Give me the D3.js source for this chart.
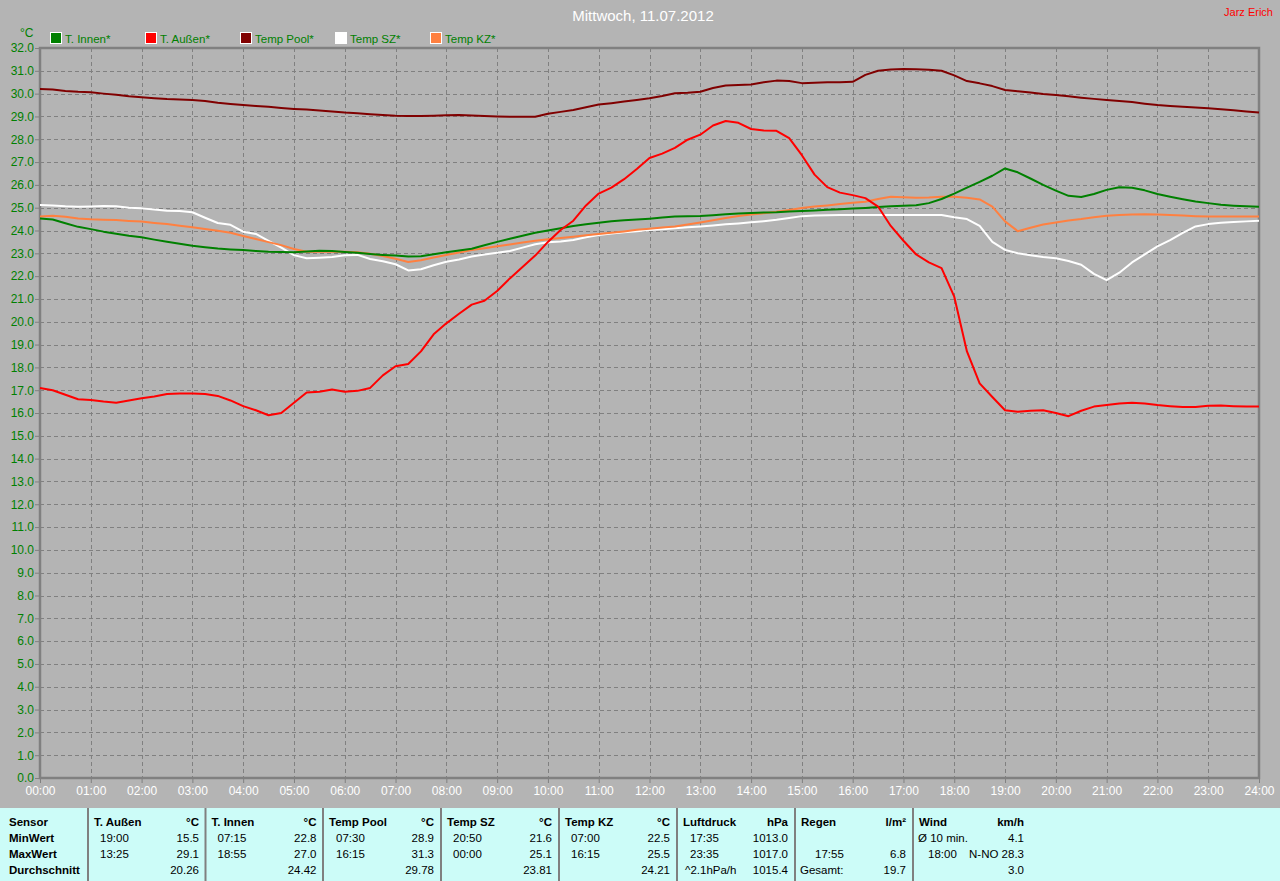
<!DOCTYPE html>
<html><head><meta charset="utf-8">
<script src="https://cdn.jsdelivr.net/npm/d3@7/dist/d3.min.js"></script>
<style>
html,body{margin:0;padding:0;background:#b4b4b4;}
svg{display:block;font-family:"Liberation Sans",Arial,sans-serif;}
</style></head><body>
<svg id="c" width="1280" height="881"></svg>
<script>
// ---- data ----
const times = d3.range(0, 24.001, 0.25); // hours, 15-min steps
const xTickLabels = ["00:00","01:00","02:00","03:00","04:00","05:00","06:00","07:00","08:00","09:00","10:00","11:00","12:00","13:00","14:00","15:00","16:00","17:00","18:00","19:00","20:00","21:00","22:00","23:00","24:00"];
const yTicks = d3.range(0, 32.001, 1);
const seriesNames = ["T. Innen*","T. Außen*","Temp Pool*","Temp SZ*","Temp KZ*"];
const seriesColors = ["#008000","#ff0000","#800000","#ffffff","#ff8040"];

const tInnen = [24.53,24.48,24.32,24.16,24.06,23.95,23.86,23.77,23.7,23.6,23.51,23.42,23.33,23.27,23.21,23.17,23.14,23.1,23.07,23.06,23.05,23.08,23.11,23.1,23.06,23.02,22.97,22.93,22.9,22.86,22.87,22.96,23.05,23.12,23.2,23.35,23.5,23.64,23.77,23.9,24.0,24.1,24.2,24.27,24.34,24.41,24.45,24.48,24.52,24.57,24.61,24.63,24.64,24.67,24.71,24.75,24.77,24.79,24.8,24.83,24.85,24.88,24.91,24.93,24.96,24.99,25.03,25.06,25.08,25.11,25.2,25.38,25.62,25.88,26.13,26.4,26.72,26.55,26.28,26.0,25.75,25.52,25.47,25.6,25.78,25.9,25.87,25.76,25.6,25.48,25.37,25.27,25.2,25.13,25.09,25.06,25.04];
const tAussen = [17.1,17.0,16.8,16.6,16.57,16.5,16.45,16.55,16.65,16.72,16.83,16.85,16.85,16.83,16.75,16.55,16.3,16.12,15.9,16.0,16.45,16.9,16.93,17.03,16.93,16.97,17.1,17.65,18.05,18.15,18.7,19.45,19.93,20.35,20.75,20.92,21.35,21.9,22.4,22.9,23.5,24.02,24.43,25.1,25.62,25.88,26.25,26.7,27.18,27.37,27.62,27.98,28.2,28.6,28.8,28.72,28.45,28.38,28.37,28.05,27.3,26.45,25.9,25.66,25.55,25.42,25.05,24.2,23.55,22.95,22.6,22.35,21.1,18.7,17.3,16.7,16.12,16.06,16.1,16.12,16.0,15.86,16.1,16.28,16.35,16.42,16.45,16.42,16.35,16.3,16.26,16.26,16.32,16.33,16.3,16.28,16.28];
const tPool = [30.2,30.18,30.12,30.08,30.06,30.0,29.95,29.88,29.84,29.8,29.76,29.74,29.72,29.68,29.6,29.55,29.5,29.46,29.42,29.37,29.33,29.3,29.26,29.22,29.17,29.14,29.1,29.06,29.03,29.02,29.02,29.03,29.05,29.06,29.04,29.02,29.0,28.99,28.99,28.99,29.12,29.2,29.28,29.4,29.52,29.58,29.65,29.72,29.8,29.9,30.02,30.04,30.08,30.25,30.36,30.38,30.4,30.5,30.57,30.55,30.46,30.48,30.5,30.5,30.52,30.82,31.0,31.06,31.08,31.07,31.05,31.0,30.8,30.55,30.45,30.33,30.16,30.1,30.05,29.98,29.94,29.88,29.82,29.77,29.72,29.68,29.63,29.56,29.5,29.46,29.42,29.39,29.36,29.32,29.27,29.22,29.17];
const tSZ = [25.12,25.1,25.06,25.04,25.05,25.07,25.06,25.0,24.97,24.92,24.87,24.85,24.8,24.56,24.33,24.25,23.95,23.85,23.55,23.25,22.92,22.78,22.81,22.84,22.92,22.93,22.75,22.65,22.52,22.25,22.3,22.48,22.63,22.73,22.86,22.95,23.02,23.1,23.25,23.4,23.48,23.52,23.58,23.7,23.8,23.87,23.92,23.97,24.02,24.06,24.1,24.14,24.18,24.22,24.27,24.31,24.36,24.41,24.47,24.55,24.63,24.66,24.67,24.68,24.68,24.68,24.68,24.68,24.68,24.68,24.68,24.68,24.58,24.5,24.2,23.5,23.15,23.0,22.92,22.84,22.78,22.66,22.5,22.1,21.82,22.15,22.6,22.95,23.3,23.58,23.9,24.18,24.28,24.34,24.37,24.4,24.43];
const tKZ = [24.61,24.65,24.6,24.53,24.49,24.47,24.46,24.42,24.39,24.33,24.28,24.21,24.14,24.07,23.99,23.9,23.76,23.63,23.49,23.36,23.19,23.07,23.07,23.07,23.07,23.05,22.98,22.88,22.76,22.62,22.7,22.82,22.93,23.04,23.14,23.22,23.31,23.39,23.47,23.55,23.62,23.67,23.73,23.79,23.85,23.9,23.96,24.03,24.08,24.13,24.18,24.26,24.35,24.45,24.55,24.64,24.7,24.76,24.82,24.9,24.99,25.05,25.1,25.16,25.22,25.26,25.38,25.48,25.46,25.44,25.45,25.48,25.48,25.44,25.36,25.05,24.4,23.97,24.12,24.26,24.35,24.44,24.5,24.58,24.65,24.68,24.7,24.71,24.7,24.68,24.66,24.63,24.61,24.61,24.61,24.61,24.61];

// stats table
const tableHeaders = [["Sensor",""],["T. Außen","°C"],["T. Innen","°C"],["Temp Pool","°C"],["Temp SZ","°C"],["Temp KZ","°C"],["Luftdruck","hPa"],["Regen","l/m²"],["Wind","km/h"]];
const rowLabels = ["MinWert","MaxWert","Durchschnitt"];
const tableCells = [
  [["19:00","15.5"],["13:25","29.1"],["","20.26"]],
  [["07:15","22.8"],["18:55","27.0"],["","24.42"]],
  [["07:30","28.9"],["16:15","31.3"],["","29.78"]],
  [["20:50","21.6"],["00:00","25.1"],["","23.81"]],
  [["07:00","22.5"],["16:15","25.5"],["","24.21"]],
  [["17:35","1013.0"],["23:35","1017.0"],["^2.1hPa/h","1015.4"]],
  [["",""],["17:55","6.8"],["Gesamt:","19.7"]],
  [["Ø 10 min.","4.1"],["18:00","N-NO 28.3"],["","3.0"]]
];

(function(){
const svg = d3.select("#c");
const W = 1280, H = 881;
const pL = 40, pR = 1259, pT = 48, pB = 778;
const x = d3.scaleLinear().domain([0,24]).range([pL,pR]);
const y = d3.scaleLinear().domain([0,32]).range([pB,pT]);

svg.append("rect").attr("width",W).attr("height",H).attr("fill","#b4b4b4");

// grid
const gridG = svg.append("g");
gridG.selectAll("line.h").data(yTicks.slice(1)).join("line")
  .attr("x1",pL).attr("x2",pR).attr("y1",d=>Math.round(y(d))+0.5).attr("y2",d=>Math.round(y(d))+0.5)
  .attr("stroke","#808080").attr("stroke-width",1).attr("stroke-dasharray","4,3");
gridG.selectAll("line.v").data(d3.range(1,24)).join("line")
  .attr("y1",pT).attr("y2",pB).attr("x1",d=>Math.round(x(d))+0.5).attr("x2",d=>Math.round(x(d))+0.5)
  .attr("stroke","#808080").attr("stroke-width",1).attr("stroke-dasharray","4,3");

// axes
const yAxis = d3.axisLeft(y).tickValues(yTicks).tickFormat(d3.format(".1f")).tickSize(5).tickPadding(1);
const ya = svg.append("g").attr("transform",`translate(${pL},0)`).call(yAxis);
ya.select(".domain").remove();
ya.selectAll("line").attr("stroke","#808080");
ya.selectAll("text").attr("fill","#008000").attr("font-size","12px");

const xAxis = d3.axisBottom(x).tickValues(d3.range(0,25)).tickFormat((d,i)=>xTickLabels[i]).tickSize(5).tickPadding(3);
const xa = svg.append("g").attr("transform",`translate(0,${pB})`).call(xAxis);
xa.select(".domain").remove();
xa.selectAll("line").attr("stroke","#808080");
xa.selectAll("text").attr("fill","#ffffff").attr("font-size","12px");

// frame
svg.append("rect").attr("x",pL).attr("y",pT).attr("width",pR-pL).attr("height",pB-pT)
  .attr("fill","none").attr("stroke","#808080").attr("stroke-width",2.5);

// lines
const allSeries = [tInnen,tAussen,tPool,tSZ,tKZ];
const line = d3.line().x((d,i)=>x(times[i])).y(d=>y(d));
[2,3,4,0,1].forEach(k=>{
  svg.append("path").datum(allSeries[k]).attr("d",line)
    .attr("fill","none").attr("stroke",seriesColors[k]).attr("stroke-width",2)
    .attr("stroke-linejoin","round");
});

// title etc
svg.append("text").attr("x",643).attr("y",21).attr("text-anchor","middle")
  .attr("fill","#ffffff").attr("font-size","15px").text("Mittwoch, 11.07.2012");
svg.append("text").attr("x",1273).attr("y",16).attr("text-anchor","end")
  .attr("fill","#ff0000").attr("font-size","11px").text("Jarz Erich");
svg.append("text").attr("x",20).attr("y",37).attr("fill","#008000").attr("font-size","12px").text("°C");

// legend
const lg = svg.append("g");
seriesNames.forEach((n,i)=>{
  const lx = 50 + i*95;
  lg.append("rect").attr("x",lx+0.5).attr("y",32.5).attr("width",11).attr("height",11)
    .attr("fill",seriesColors[i]).attr("stroke","#ffffff").attr("stroke-width",1);
  lg.append("text").attr("x",lx+15).attr("y",43).attr("fill","#008000").attr("font-size","11.5px").text(n);
});

// table
const tTop = 808;
svg.append("rect").attr("x",0).attr("y",tTop).attr("width",W).attr("height",H-tTop).attr("fill","#ccfcf8");
const seps = [88,205.5,323,441,559,677,795,913];
seps.forEach(s=>{
  svg.append("line").attr("x1",s).attr("x2",s).attr("y1",tTop).attr("y2",H)
    .attr("stroke","#808080").attr("stroke-width",2);
});
const rowY = [826,842,858,874];
const tg = svg.append("g").attr("font-size","11.5px").attr("fill","#000");
tg.append("text").attr("x",9).attr("y",rowY[0]).attr("font-weight","bold").text(tableHeaders[0][0]);
rowLabels.forEach((r,i)=>tg.append("text").attr("x",9).attr("y",rowY[i+1]).attr("font-weight","bold").text(r));
const timeOffsets = [12,12,13,12,12,13,20,15];
tableHeaders.slice(1).forEach((h,c)=>{
  const s = seps[c];
  const rEdge = s + 111;
  tg.append("text").attr("x",s+6).attr("y",rowY[0]).attr("font-weight","bold").text(h[0]);
  tg.append("text").attr("x",rEdge).attr("y",rowY[0]).attr("font-weight","bold").attr("text-anchor","end").text(h[1]);
  tableCells[c].forEach((cell,r)=>{
    let tx = s + timeOffsets[c];
    if (cell[0]==="Gesamt:" || cell[0]==="Ø 10 min.") tx = s + 5;
    if (cell[0].startsWith("^")) tx = s + 8;
    if (cell[0]) tg.append("text").attr("x",tx).attr("y",rowY[r+1]).text(cell[0]);
    if (cell[1]) tg.append("text").attr("x",rEdge).attr("y",rowY[r+1]).attr("text-anchor","end").text(cell[1]);
  });
});
})();
</script>
</body></html>
